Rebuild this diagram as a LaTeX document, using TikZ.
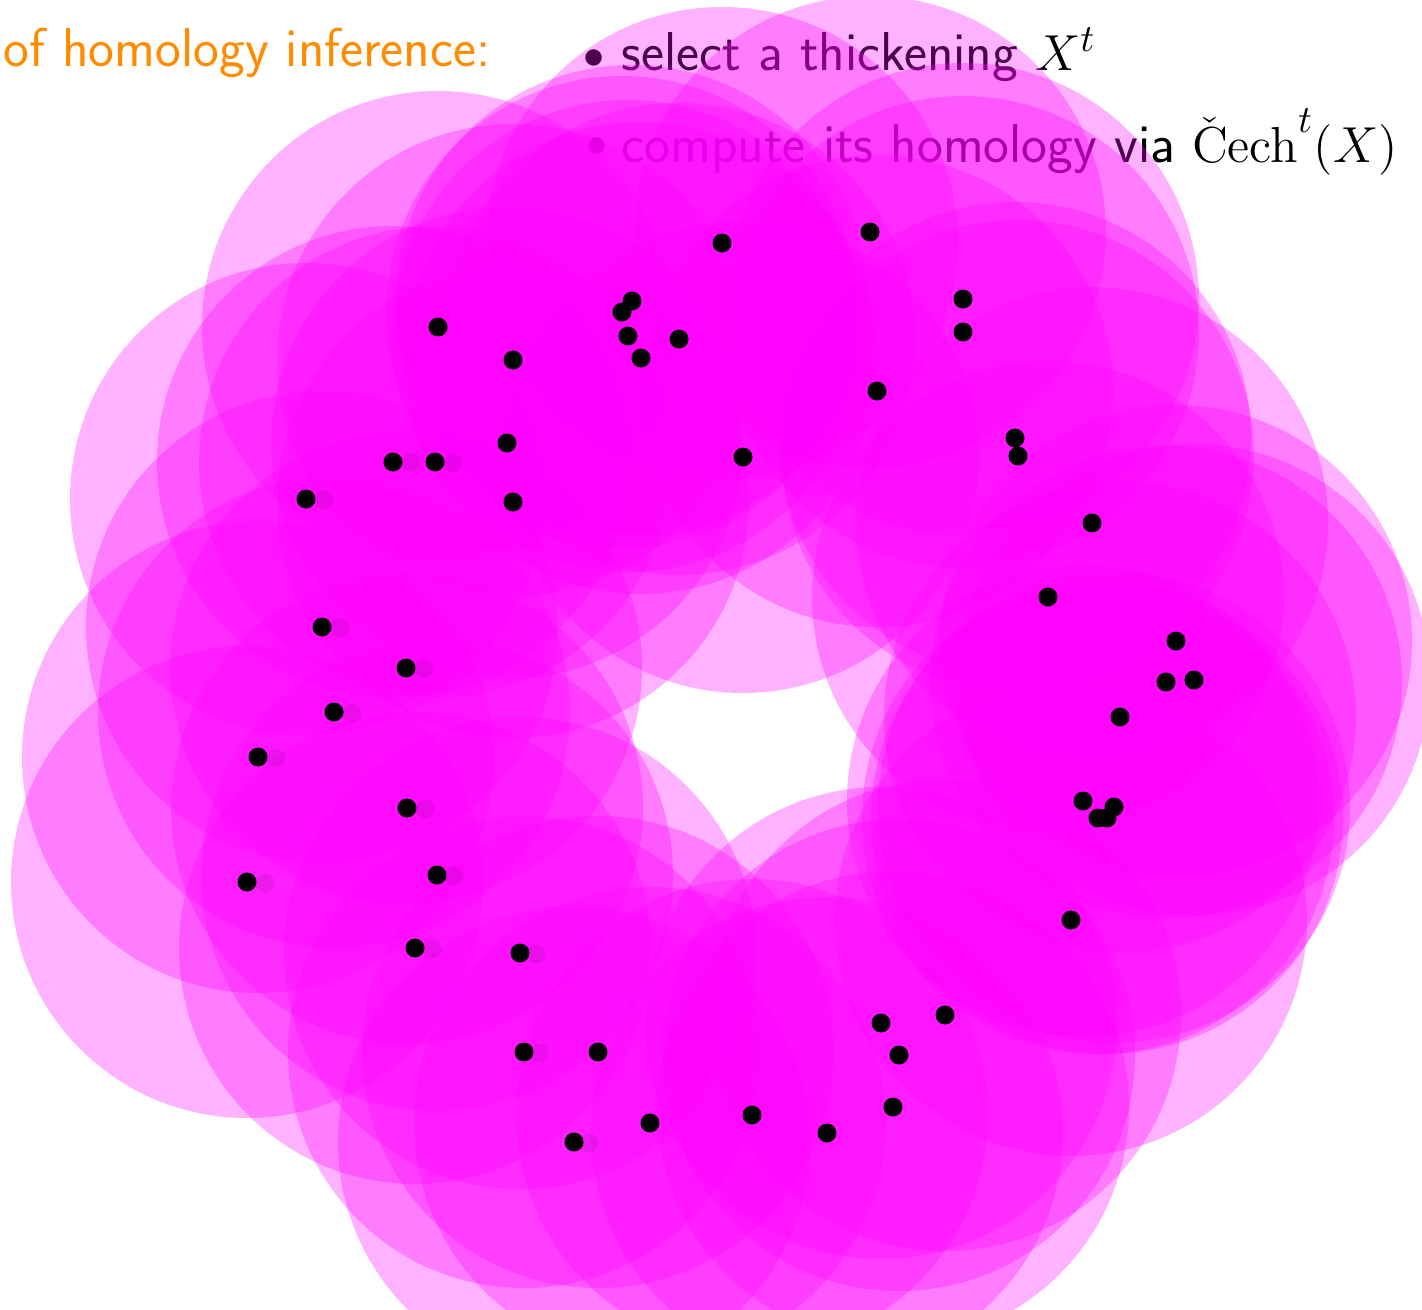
\documentclass[tikz,border=0pt]{standalone}
\usetikzlibrary{positioning}
\definecolor{ballmagenta}{rgb}{1,0,1}
\definecolor{titleorange}{rgb}{1,0.55,0}
\tikzset{
  ball/.style={fill=ballmagenta,fill opacity=0.3},
  ghost/.style={fill=black,fill opacity=0.08},
  slidetext/.style={font=\fontsize{15.6}{18}\sffamily,inner sep=0pt,anchor=base west},
  itembullet/.style={font=\fontsize{12}{13}\selectfont,inner sep=0pt}
}

\begin{document}
\begin{tikzpicture}[line cap=round,line join=round]
  \useasboundingbox (0,0) rectangle (14.22,-13.10);
  % text of the slide, under the thickening
  \node[slidetext,text=titleorange] (inference) at (0.03,-0.66) {of homology inference:};
  \node[itembullet] (bulletselect) at (5.94,-0.59) {$\bullet$};
  \node[slidetext] (select) at (6.21,-0.70) {select a thickening $X^t$};
  \node[itembullet] (bulletcompute) at (5.97,-1.47) {$\bullet$};
  \node[slidetext] (compute) at (6.21,-1.62) {compute its homology via ${\check{\mathrm{C}}\mathrm{ech}}^t(X)$};
  % union of balls X^t
  \fill[ball] (7.22,-2.43) circle (2.36);
  \fill[ball] (8.70,-2.32) circle (2.36);
  \fill[ball] (9.63,-2.99) circle (2.36);
  \fill[ball] (9.63,-3.32) circle (2.36);
  \fill[ball] (8.77,-3.91) circle (2.36);
  \fill[ball] (6.32,-3.01) circle (2.36);
  \fill[ball] (6.22,-3.12) circle (2.36);
  \fill[ball] (6.28,-3.36) circle (2.36);
  \fill[ball] (6.41,-3.58) circle (2.36);
  \fill[ball] (6.79,-3.39) circle (2.36);
  \fill[ball] (4.38,-3.27) circle (2.36);
  \fill[ball] (5.13,-3.60) circle (2.36);
  \fill[ball] (5.07,-4.43) circle (2.36);
  \fill[ball] (5.13,-5.02) circle (2.36);
  \fill[ball] (3.93,-4.62) circle (2.36);
  \fill[ball] (4.35,-4.62) circle (2.36);
  \fill[ball] (3.06,-4.99) circle (2.36);
  \fill[ball] (7.43,-4.57) circle (2.36);
  \fill[ball] (10.15,-4.38) circle (2.36);
  \fill[ball] (10.18,-4.56) circle (2.36);
  \fill[ball] (10.92,-5.23) circle (2.36);
  \fill[ball] (10.48,-5.97) circle (2.36);
  \fill[ball] (11.76,-6.41) circle (2.36);
  \fill[ball] (11.66,-6.82) circle (2.36);
  \fill[ball] (11.94,-6.80) circle (2.36);
  \fill[ball] (11.20,-7.17) circle (2.36);
  \fill[ball] (10.83,-8.01) circle (2.36);
  \fill[ball] (10.98,-8.18) circle (2.36);
  \fill[ball] (11.07,-8.18) circle (2.36);
  \fill[ball] (11.14,-8.07) circle (2.36);
  \fill[ball] (10.71,-9.20) circle (2.36);
  \fill[ball] (3.22,-6.27) circle (2.36);
  \fill[ball] (4.06,-6.68) circle (2.36);
  \fill[ball] (3.34,-7.12) circle (2.36);
  \fill[ball] (2.58,-7.57) circle (2.36);
  \fill[ball] (4.07,-8.08) circle (2.36);
  \fill[ball] (2.47,-8.82) circle (2.36);
  \fill[ball] (4.37,-8.75) circle (2.36);
  \fill[ball] (4.15,-9.48) circle (2.36);
  \fill[ball] (5.20,-9.53) circle (2.36);
  \fill[ball] (5.24,-10.52) circle (2.36);
  \fill[ball] (5.98,-10.52) circle (2.36);
  \fill[ball] (8.81,-10.23) circle (2.36);
  \fill[ball] (9.45,-10.15) circle (2.36);
  \fill[ball] (8.99,-10.55) circle (2.36);
  \fill[ball] (8.93,-11.07) circle (2.36);
  \fill[ball] (6.50,-11.23) circle (2.36);
  \fill[ball] (7.52,-11.15) circle (2.36);
  \fill[ball] (8.27,-11.33) circle (2.36);
  \fill[ball] (5.74,-11.42) circle (2.36);
  % faint shifted copies of the left points
  \fill[ghost] (4.11,-4.62) circle (0.095);
  \fill[ghost] (4.53,-4.63) circle (0.095);
  \fill[ghost] (3.24,-5.00) circle (0.095);
  \fill[ghost] (3.40,-6.28) circle (0.095);
  \fill[ghost] (4.24,-6.69) circle (0.095);
  \fill[ghost] (3.52,-7.13) circle (0.095);
  \fill[ghost] (2.76,-7.58) circle (0.095);
  \fill[ghost] (4.25,-8.09) circle (0.095);
  \fill[ghost] (2.65,-8.83) circle (0.095);
  \fill[ghost] (4.54,-8.76) circle (0.095);
  \fill[ghost] (4.32,-9.49) circle (0.095);
  \fill[ghost] (5.36,-9.54) circle (0.095);
  \fill[ghost] (5.39,-10.53) circle (0.095);
  \fill[ghost] (5.89,-11.43) circle (0.095);
  % sample points X
  \fill (7.22,-2.43) circle (0.095);
  \fill (8.70,-2.32) circle (0.095);
  \fill (9.63,-2.99) circle (0.095);
  \fill (9.63,-3.32) circle (0.095);
  \fill (8.77,-3.91) circle (0.095);
  \fill (6.32,-3.01) circle (0.095);
  \fill (6.22,-3.12) circle (0.095);
  \fill (6.28,-3.36) circle (0.095);
  \fill (6.41,-3.58) circle (0.095);
  \fill (6.79,-3.39) circle (0.095);
  \fill (4.38,-3.27) circle (0.095);
  \fill (5.13,-3.60) circle (0.095);
  \fill (5.07,-4.43) circle (0.095);
  \fill (5.13,-5.02) circle (0.095);
  \fill (3.93,-4.62) circle (0.095);
  \fill (4.35,-4.62) circle (0.095);
  \fill (3.06,-4.99) circle (0.095);
  \fill (7.43,-4.57) circle (0.095);
  \fill (10.15,-4.38) circle (0.095);
  \fill (10.18,-4.56) circle (0.095);
  \fill (10.92,-5.23) circle (0.095);
  \fill (10.48,-5.97) circle (0.095);
  \fill (11.76,-6.41) circle (0.095);
  \fill (11.66,-6.82) circle (0.095);
  \fill (11.94,-6.80) circle (0.095);
  \fill (11.20,-7.17) circle (0.095);
  \fill (10.83,-8.01) circle (0.095);
  \fill (10.98,-8.18) circle (0.095);
  \fill (11.07,-8.18) circle (0.095);
  \fill (11.14,-8.07) circle (0.095);
  \fill (10.71,-9.20) circle (0.095);
  \fill (3.22,-6.27) circle (0.095);
  \fill (4.06,-6.68) circle (0.095);
  \fill (3.34,-7.12) circle (0.095);
  \fill (2.58,-7.57) circle (0.095);
  \fill (4.07,-8.08) circle (0.095);
  \fill (2.47,-8.82) circle (0.095);
  \fill (4.37,-8.75) circle (0.095);
  \fill (4.15,-9.48) circle (0.095);
  \fill (5.20,-9.53) circle (0.095);
  \fill (5.24,-10.52) circle (0.095);
  \fill (5.98,-10.52) circle (0.095);
  \fill (8.81,-10.23) circle (0.095);
  \fill (9.45,-10.15) circle (0.095);
  \fill (8.99,-10.55) circle (0.095);
  \fill (8.93,-11.07) circle (0.095);
  \fill (6.50,-11.23) circle (0.095);
  \fill (7.52,-11.15) circle (0.095);
  \fill (8.27,-11.33) circle (0.095);
  \fill (5.74,-11.42) circle (0.095);
\end{tikzpicture}
\end{document}
